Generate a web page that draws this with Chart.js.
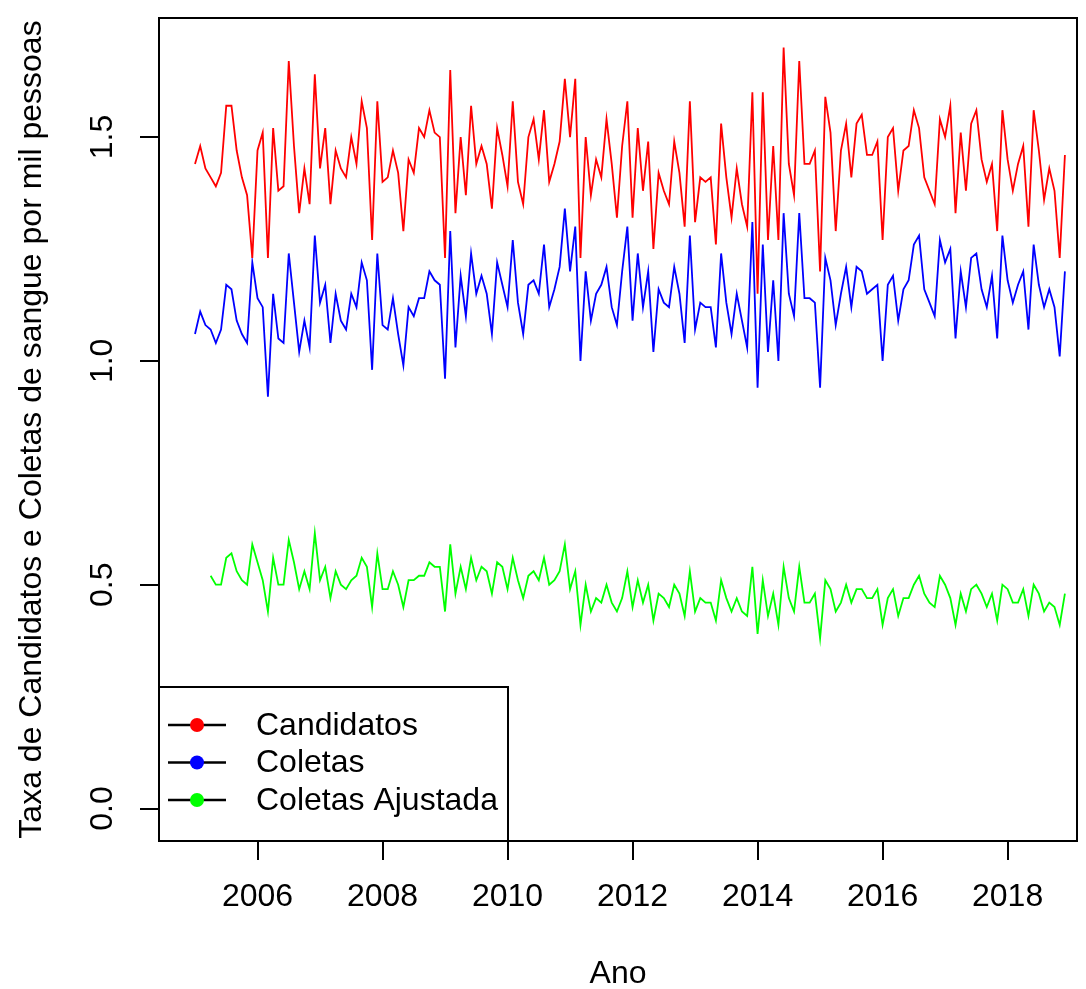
<!DOCTYPE html>
<html>
<head>
<meta charset="utf-8">
<title>Candidatos e Coletas</title>
<script src="https://cdn.jsdelivr.net/npm/chart.js@4.4.0/dist/chart.umd.min.js"></script>
<style>
  html, body { margin: 0; padding: 0; background: #fff; }
  canvas { display: block; }
</style>
</head>
<body>
<canvas id="grafico" width="1086" height="989"></canvas>
<script>
// Série mensal: jan/2005 a dez/2018 (uma linha por ano)
const anoInicial = 2005;

const candidatos = [
  1.44, 1.48, 1.43, 1.41, 1.39, 1.42, 1.57, 1.57, 1.47, 1.41, 1.37, 1.23,
  1.47, 1.51, 1.23, 1.52, 1.38, 1.39, 1.67, 1.48, 1.33, 1.43, 1.35, 1.64,
  1.43, 1.52, 1.35, 1.47, 1.43, 1.41, 1.50, 1.44, 1.58, 1.52, 1.27, 1.58,
  1.40, 1.41, 1.47, 1.42, 1.29, 1.45, 1.42, 1.52, 1.50, 1.56, 1.51, 1.50,
  1.23, 1.65, 1.33, 1.50, 1.37, 1.57, 1.44, 1.48, 1.44, 1.34, 1.52, 1.46,
  1.39, 1.58, 1.40, 1.35, 1.50, 1.54, 1.45, 1.56, 1.40, 1.44, 1.49, 1.63,
  1.50, 1.63, 1.23, 1.50, 1.37, 1.45, 1.41, 1.54, 1.44, 1.32, 1.48, 1.58,
  1.32, 1.52, 1.38, 1.49, 1.25, 1.42, 1.38, 1.35, 1.49, 1.42, 1.30, 1.58,
  1.31, 1.41, 1.40, 1.41, 1.26, 1.53, 1.41, 1.32, 1.43, 1.35, 1.30, 1.60,
  1.15, 1.60, 1.27, 1.48, 1.27, 1.70, 1.44, 1.37, 1.67, 1.44, 1.44, 1.47,
  1.20, 1.59, 1.51, 1.29, 1.47, 1.53, 1.41, 1.53, 1.55, 1.46, 1.46, 1.49,
  1.27, 1.50, 1.52, 1.38, 1.47, 1.48, 1.56, 1.52, 1.41, 1.38, 1.35, 1.54,
  1.50, 1.57, 1.33, 1.51, 1.38, 1.53, 1.56, 1.45, 1.40, 1.44, 1.29, 1.56,
  1.45, 1.38, 1.44, 1.48, 1.30, 1.56, 1.47, 1.36, 1.43, 1.38, 1.23, 1.46
];

const coletas = [
  1.06, 1.11, 1.08, 1.07, 1.04, 1.07, 1.17, 1.16, 1.09, 1.06, 1.04, 1.22,
  1.14, 1.12, 0.92, 1.15, 1.05, 1.04, 1.24, 1.13, 1.02, 1.09, 1.03, 1.28,
  1.13, 1.17, 1.04, 1.15, 1.09, 1.07, 1.15, 1.12, 1.22, 1.18, 0.98, 1.24,
  1.08, 1.07, 1.14, 1.06, 0.99, 1.12, 1.10, 1.14, 1.14, 1.20, 1.18, 1.17,
  0.96, 1.29, 1.03, 1.19, 1.10, 1.24, 1.15, 1.19, 1.15, 1.06, 1.22, 1.17,
  1.12, 1.27, 1.13, 1.06, 1.17, 1.18, 1.15, 1.26, 1.12, 1.16, 1.21, 1.34,
  1.20, 1.30, 1.00, 1.20, 1.09, 1.15, 1.17, 1.21, 1.12, 1.08, 1.20, 1.30,
  1.09, 1.24, 1.12, 1.20, 1.02, 1.16, 1.13, 1.12, 1.21, 1.15, 1.04, 1.28,
  1.07, 1.13, 1.12, 1.12, 1.03, 1.24, 1.13, 1.06, 1.15, 1.09, 1.03, 1.31,
  0.94, 1.26, 1.02, 1.18, 1.00, 1.33, 1.15, 1.10, 1.33, 1.14, 1.14, 1.13,
  0.94, 1.23, 1.18, 1.08, 1.15, 1.21, 1.12, 1.21, 1.20, 1.15, 1.16, 1.17,
  1.00, 1.17, 1.19, 1.09, 1.16, 1.18, 1.26, 1.28, 1.16, 1.13, 1.10, 1.27,
  1.22, 1.25, 1.05, 1.20, 1.12, 1.23, 1.24, 1.16, 1.12, 1.19, 1.05, 1.28,
  1.18, 1.13, 1.17, 1.20, 1.07, 1.26, 1.17, 1.12, 1.16, 1.12, 1.01, 1.20
];

const coletasAjustada = [
  null, null, null, 0.52, 0.50, 0.50, 0.56, 0.57, 0.53, 0.51, 0.50, 0.59,
  0.55, 0.51, 0.44, 0.56, 0.50, 0.50, 0.60, 0.55, 0.49, 0.53, 0.49, 0.615,
  0.51, 0.54, 0.47, 0.53, 0.50, 0.49, 0.51, 0.52, 0.56, 0.54, 0.45, 0.57,
  0.49, 0.49, 0.53, 0.50, 0.45, 0.51, 0.51, 0.52, 0.52, 0.55, 0.54, 0.54,
  0.44, 0.59, 0.48, 0.54, 0.49, 0.56, 0.51, 0.54, 0.53, 0.48, 0.55, 0.54,
  0.49, 0.56, 0.51, 0.47, 0.52, 0.53, 0.51, 0.56, 0.50, 0.51, 0.53, 0.59,
  0.49, 0.53, 0.41, 0.50, 0.44, 0.47, 0.46, 0.50, 0.46, 0.44, 0.47, 0.53,
  0.45, 0.51, 0.46, 0.50, 0.42, 0.48, 0.47, 0.45, 0.50, 0.48, 0.43, 0.53,
  0.44, 0.47, 0.46, 0.46, 0.42, 0.51, 0.47, 0.44, 0.47, 0.44, 0.43, 0.54,
  0.39, 0.51, 0.43, 0.48, 0.41, 0.54, 0.47, 0.44, 0.54, 0.46, 0.46, 0.48,
  0.38, 0.51, 0.49, 0.44, 0.46, 0.50, 0.46, 0.49, 0.49, 0.47, 0.47, 0.49,
  0.41, 0.47, 0.49, 0.43, 0.47, 0.47, 0.50, 0.52, 0.48, 0.46, 0.45, 0.52,
  0.50, 0.47, 0.41, 0.48, 0.44, 0.49, 0.50, 0.48, 0.45, 0.48, 0.42, 0.50,
  0.49, 0.46, 0.46, 0.49, 0.43, 0.50, 0.48, 0.44, 0.46, 0.45, 0.41, 0.48
];

// Marcas dos eixos
const ticksAno = [2006, 2008, 2010, 2012, 2014, 2016, 2018];
const ticksTaxa = [0, 0.5, 1.0, 1.5];
const rotulosTaxa = ['0.0', '0.5', '1.0', '1.5'];

const fonte = 'Liberation Sans, Arial, sans-serif';

// cada valor mensal vira um ponto {x: ano decimal, y: taxa}
function serie(valores) {
    return valores.map((v, i) => ({ x: anoInicial + i / 12, y: v }));
}

// Moldura do gráfico (box() do R)
const moldura = {
    id: 'moldura',
    afterDraw(chart) {
        const { ctx, chartArea: a } = chart;
        ctx.save();
        ctx.strokeStyle = '#000';
        ctx.lineWidth = 2;
        ctx.strokeRect(a.left, a.top, a.right - a.left, a.bottom - a.top);
        ctx.restore();
    }
};

// Legenda no canto inferior esquerdo, estilo R (linha preta + ponto colorido)
const legendaR = {
    id: 'legendaR',
    afterDraw(chart) {
        const { ctx, chartArea: a } = chart;
        const ds = chart.data.datasets;
        ctx.save();
        ctx.fillStyle = '#fff';
        ctx.fillRect(a.left, a.bottom - 154, 349, 154);
        ctx.strokeStyle = '#000';
        ctx.lineWidth = 2;
        ctx.strokeRect(a.left, a.bottom - 154, 349, 154);

        const linhasY = [a.bottom - 116, a.bottom - 78.5, a.bottom - 41];
        ds.forEach((d, i) => {
            const y = linhasY[i];
            ctx.strokeStyle = '#000';
            ctx.lineWidth = 2.5;
            ctx.beginPath();
            ctx.moveTo(a.left + 9, y);
            ctx.lineTo(a.left + 67, y);
            ctx.stroke();
            ctx.fillStyle = d.borderColor;
            ctx.beginPath();
            ctx.arc(a.left + 38, y, 7, 0, Math.PI * 2);
            ctx.fill();
            ctx.fillStyle = '#000';
            ctx.font = '32px ' + fonte;
            ctx.textAlign = 'left';
            ctx.textBaseline = 'middle';
            ctx.fillText(d.label, a.left + 97, y + 1);
        });
        ctx.restore();
    }
};

const ctx = document.getElementById('grafico').getContext('2d');
new Chart(ctx, {
    type: 'line',
    data: {
        datasets: [
            { label: 'Candidatos', data: serie(candidatos), borderColor: '#ff0000', borderWidth: 1.8, pointRadius: 0, tension: 0, fill: false },
            { label: 'Coletas', data: serie(coletas), borderColor: '#0000ff', borderWidth: 1.8, pointRadius: 0, tension: 0, fill: false },
            { label: 'Coletas Ajustada', data: serie(coletasAjustada), borderColor: '#00ff00', borderWidth: 1.8, pointRadius: 0, tension: 0, fill: false }
        ]
    },
    options: {
        responsive: false,
        animation: false,
        devicePixelRatio: 1,
        layout: { padding: { left: 0, top: 18, right: 9, bottom: 0 } },
        plugins: {
            legend: { display: false },
            tooltip: { enabled: false }
        },
        scales: {
            x: {
                type: 'linear',
                min: 2004.424,
                max: 2019.11,
                afterBuildTicks: (s) => { s.ticks = ticksAno.map(v => ({ value: v })); },
                afterFit: (s) => { s.height = 148; s.paddingLeft = 0; s.paddingRight = 0; },
                grid: { drawOnChartArea: false, drawTicks: true, tickLength: 19, color: '#000', lineWidth: 2 },
                border: { display: false },
                ticks: {
                    color: '#000',
                    font: { family: fonte, size: 32, lineHeight: 1.2 },
                    padding: 18,
                    autoSkip: false,
                    minRotation: 0,
                    maxRotation: 0,
                    callback: (v) => String(v)
                },
                title: {
                    display: true,
                    text: 'Ano',
                    color: '#000',
                    font: { family: fonte, size: 32, lineHeight: 0.9 },
                    padding: { top: 0, bottom: 0 }
                }
            },
            y: {
                type: 'linear',
                min: -0.0726,
                max: 1.766,
                afterBuildTicks: (s) => { s.ticks = ticksTaxa.map(v => ({ value: v })); },
                afterFit: (s) => { s.width = 159; s.paddingTop = 0; s.paddingBottom = 0; },
                grid: { drawOnChartArea: false, drawTicks: true, tickLength: 19, color: '#000', lineWidth: 2 },
                border: { display: false },
                ticks: {
                    color: '#000',
                    font: { family: fonte, size: 32, lineHeight: 1.2 },
                    padding: 15,
                    autoSkip: false,
                    crossAlign: 'center',
                    minRotation: 90,
                    maxRotation: 90,
                    callback: (v, i) => rotulosTaxa[i]
                },
                title: {
                    display: true,
                    text: 'Taxa de Candidatos e Coletas de sangue por mil pessoas',
                    color: '#000',
                    font: { family: fonte, size: 32, lineHeight: 1.2 },
                    padding: { top: 13, bottom: 0 }
                }
            }
        }
    },
    plugins: [moldura, legendaR]
});
</script>
</body>
</html>
